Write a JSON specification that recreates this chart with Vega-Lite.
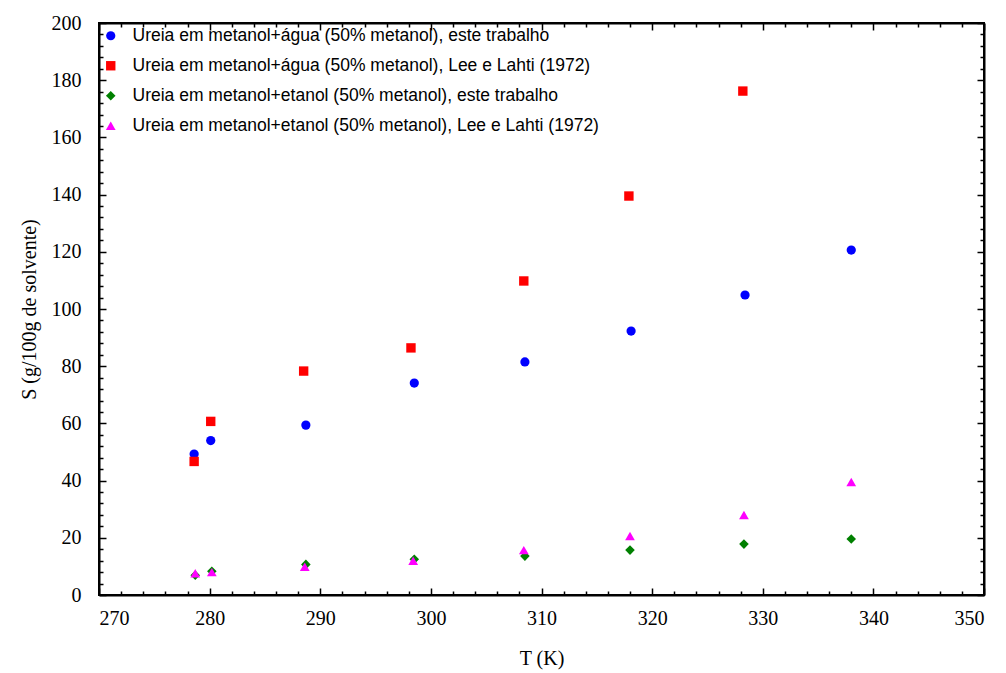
{
  "$schema": "https://vega.github.io/schema/vega-lite/v6.json",
  "width": 885,
  "height": 572,
  "autosize": {"type": "none"},
  "padding": {"left": 99, "top": 23, "right": 22, "bottom": 78},
  "background": "white",
  "config": {
    "view": {"stroke": "black", "strokeWidth": 2},
    "axis": {"grid": false, "domainColor": "black", "domainWidth": 2, "tickColor": "black", "tickWidth": 1.5, "labelFont": "Liberation Serif", "labelFontSize": 20, "labelColor": "black", "titleFont": "Liberation Serif", "titleFontSize": 20, "titleFontWeight": "normal", "titleColor": "black"}
  },
  "data": {"values": [
    {"T": 278.6, "S": 49.3, "serie": "Ureia em metanol+água (50% metanol), este trabalho"},
    {"T": 280.1, "S": 54.0, "serie": "Ureia em metanol+água (50% metanol), este trabalho"},
    {"T": 288.7, "S": 59.4, "serie": "Ureia em metanol+água (50% metanol), este trabalho"},
    {"T": 298.5, "S": 74.1, "serie": "Ureia em metanol+água (50% metanol), este trabalho"},
    {"T": 308.5, "S": 81.5, "serie": "Ureia em metanol+água (50% metanol), este trabalho"},
    {"T": 318.1, "S": 92.3, "serie": "Ureia em metanol+água (50% metanol), este trabalho"},
    {"T": 328.4, "S": 104.9, "serie": "Ureia em metanol+água (50% metanol), este trabalho"},
    {"T": 338.0, "S": 120.6, "serie": "Ureia em metanol+água (50% metanol), este trabalho"},
    {"T": 278.6, "S": 46.7, "serie": "Ureia em metanol+água (50% metanol), Lee e Lahti (1972)"},
    {"T": 280.1, "S": 60.7, "serie": "Ureia em metanol+água (50% metanol), Lee e Lahti (1972)"},
    {"T": 288.5, "S": 78.3, "serie": "Ureia em metanol+água (50% metanol), Lee e Lahti (1972)"},
    {"T": 298.2, "S": 86.4, "serie": "Ureia em metanol+água (50% metanol), Lee e Lahti (1972)"},
    {"T": 308.4, "S": 109.8, "serie": "Ureia em metanol+água (50% metanol), Lee e Lahti (1972)"},
    {"T": 317.9, "S": 139.5, "serie": "Ureia em metanol+água (50% metanol), Lee e Lahti (1972)"},
    {"T": 328.2, "S": 176.2, "serie": "Ureia em metanol+água (50% metanol), Lee e Lahti (1972)"},
    {"T": 278.7, "S": 6.9, "serie": "Ureia em metanol+etanol (50% metanol), este trabalho"},
    {"T": 280.2, "S": 8.3, "serie": "Ureia em metanol+etanol (50% metanol), este trabalho"},
    {"T": 288.7, "S": 10.7, "serie": "Ureia em metanol+etanol (50% metanol), este trabalho"},
    {"T": 298.5, "S": 12.5, "serie": "Ureia em metanol+etanol (50% metanol), este trabalho"},
    {"T": 308.5, "S": 13.6, "serie": "Ureia em metanol+etanol (50% metanol), este trabalho"},
    {"T": 318.0, "S": 15.7, "serie": "Ureia em metanol+etanol (50% metanol), este trabalho"},
    {"T": 328.3, "S": 17.8, "serie": "Ureia em metanol+etanol (50% metanol), este trabalho"},
    {"T": 338.0, "S": 19.6, "serie": "Ureia em metanol+etanol (50% metanol), este trabalho"},
    {"T": 278.7, "S": 7.6, "serie": "Ureia em metanol+etanol (50% metanol), Lee e Lahti (1972)"},
    {"T": 280.2, "S": 8.0, "serie": "Ureia em metanol+etanol (50% metanol), Lee e Lahti (1972)"},
    {"T": 288.6, "S": 9.9, "serie": "Ureia em metanol+etanol (50% metanol), Lee e Lahti (1972)"},
    {"T": 298.4, "S": 12.0, "serie": "Ureia em metanol+etanol (50% metanol), Lee e Lahti (1972)"},
    {"T": 308.4, "S": 15.7, "serie": "Ureia em metanol+etanol (50% metanol), Lee e Lahti (1972)"},
    {"T": 318.0, "S": 20.6, "serie": "Ureia em metanol+etanol (50% metanol), Lee e Lahti (1972)"},
    {"T": 328.3, "S": 28.0, "serie": "Ureia em metanol+etanol (50% metanol), Lee e Lahti (1972)"},
    {"T": 338.0, "S": 39.5, "serie": "Ureia em metanol+etanol (50% metanol), Lee e Lahti (1972)"}
  ]},
  "layer": [
    {
      "mark": {"type": "point", "filled": true, "opacity": 1},
      "encoding": {
        "x": {"field": "T", "type": "quantitative", "scale": {"domain": [270, 350], "nice": false, "zero": false}, "title": "T (K)",
          "axis": {"orient": "bottom", "values": [270, 280, 290, 300, 310, 320, 330, 340, 350], "tickSize": -7, "labelPadding": 20, "titlePadding": 20, "domain": true}},
        "y": {"field": "S", "type": "quantitative", "scale": {"domain": [0, 200], "nice": false}, "title": "S (g/100g de solvente)",
          "axis": {"orient": "left", "values": [0, 20, 40, 60, 80, 100, 120, 140, 160, 180, 200], "tickSize": -7, "labelPadding": 25, "titlePadding": 12, "labelBaseline": "middle"}},
        "color": {"field": "serie", "type": "nominal",
          "scale": {"domain": ["Ureia em metanol+água (50% metanol), este trabalho", "Ureia em metanol+água (50% metanol), Lee e Lahti (1972)", "Ureia em metanol+etanol (50% metanol), este trabalho", "Ureia em metanol+etanol (50% metanol), Lee e Lahti (1972)"], "range": ["#0000FF", "#FF0000", "#008000", "#FF00FF"]},
          "legend": {"orient": "none", "legendX": 3, "legendY": 4, "title": null, "padding": 0, "labelFont": "Liberation Sans", "labelFontSize": 17.5, "labelColor": "black", "labelLimit": 800, "rowPadding": 11, "labelOffset": 13, "symbolSize": 64, "symbolStrokeWidth": 0}},
        "shape": {"field": "serie", "type": "nominal",
          "scale": {"domain": ["Ureia em metanol+água (50% metanol), este trabalho", "Ureia em metanol+água (50% metanol), Lee e Lahti (1972)", "Ureia em metanol+etanol (50% metanol), este trabalho", "Ureia em metanol+etanol (50% metanol), Lee e Lahti (1972)"], "range": ["circle", "square", "diamond", "triangle-up"]}},
        "size": {"field": "serie", "type": "nominal", "legend": null,
          "scale": {"domain": ["Ureia em metanol+água (50% metanol), este trabalho", "Ureia em metanol+água (50% metanol), Lee e Lahti (1972)", "Ureia em metanol+etanol (50% metanol), este trabalho", "Ureia em metanol+etanol (50% metanol), Lee e Lahti (1972)"], "range": [85, 95, 60, 75]}}
      }
    },
    {
      "mark": {"type": "point", "opacity": 0},
      "encoding": {
        "x": {"field": "T", "type": "quantitative", "axis": {"orient": "bottom", "values": [272, 274, 276, 278, 282, 284, 286, 288, 292, 294, 296, 298, 302, 304, 306, 308, 312, 314, 316, 318, 322, 324, 326, 328, 332, 334, 336, 338, 342, 344, 346, 348], "tickSize": -4, "labels": false, "domain": false, "title": null}},
        "y": {"field": "S", "type": "quantitative", "axis": {"orient": "left", "values": [4, 8, 12, 16, 24, 28, 32, 36, 44, 48, 52, 56, 64, 68, 72, 76, 84, 88, 92, 96, 104, 108, 112, 116, 124, 128, 132, 136, 144, 148, 152, 156, 164, 168, 172, 176, 184, 188, 192, 196], "tickSize": -4, "labels": false, "domain": false, "title": null}}
      }
    },
    {
      "mark": {"type": "point", "opacity": 0},
      "encoding": {
        "x": {"field": "T", "type": "quantitative", "axis": {"orient": "top", "values": [270, 280, 290, 300, 310, 320, 330, 340, 350], "tickSize": -7, "labels": false, "title": null}},
        "y": {"field": "S", "type": "quantitative", "axis": {"orient": "right", "values": [0, 20, 40, 60, 80, 100, 120, 140, 160, 180, 200], "tickSize": -7, "labels": false, "title": null}}
      }
    },
    {
      "mark": {"type": "point", "opacity": 0},
      "encoding": {
        "x": {"field": "T", "type": "quantitative", "axis": {"orient": "top", "values": [272, 274, 276, 278, 282, 284, 286, 288, 292, 294, 296, 298, 302, 304, 306, 308, 312, 314, 316, 318, 322, 324, 326, 328, 332, 334, 336, 338, 342, 344, 346, 348], "tickSize": -4, "labels": false, "domain": false, "title": null}},
        "y": {"field": "S", "type": "quantitative", "axis": {"orient": "right", "values": [4, 8, 12, 16, 24, 28, 32, 36, 44, 48, 52, 56, 64, 68, 72, 76, 84, 88, 92, 96, 104, 108, 112, 116, 124, 128, 132, 136, 144, 148, 152, 156, 164, 168, 172, 176, 184, 188, 192, 196], "tickSize": -4, "labels": false, "domain": false, "title": null}}
      }
    }
  ],
  "resolve": {"axis": {"x": "independent", "y": "independent"}}
}
